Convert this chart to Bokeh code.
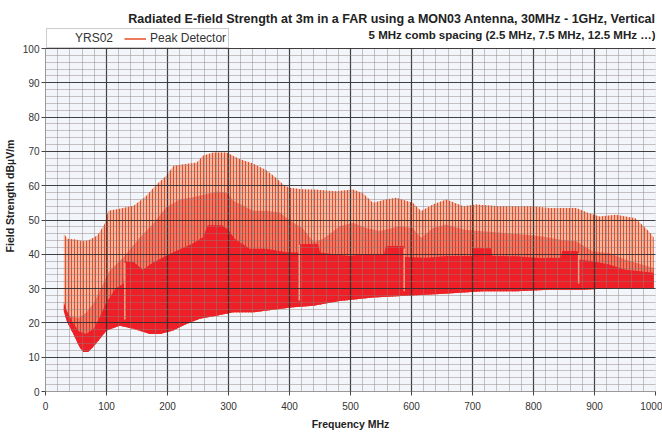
from bokeh.plotting import figure
from bokeh.models import Range1d, SingleIntervalTicker, Label, Legend, LegendItem, BoxAnnotation
from bokeh.embed import file_html
from bokeh.resources import INLINE

# ---------------- data ----------------
# upper envelope of the tall comb lines (dBuV/m)
freq_peak = [30, 36, 50, 60, 70, 85, 97, 103, 120, 145,
             165, 180, 198, 210, 230, 248, 258, 275, 297, 318,
             340, 362, 378, 390, 400, 420, 445, 476, 504, 520,
             537, 558, 575, 602, 616, 635, 657, 685, 706, 745,
             772, 799, 826, 870, 891, 908, 935, 967, 989, 997]
peak = [46, 44.5, 44.3, 43.8, 44, 45.5, 48.8, 52.7, 53.2, 54.2,
        57, 60, 62.9, 65.8, 66.3, 66.8, 68.7, 69.7, 69.7, 67.8,
        66.5, 64.5, 62.3, 60.3, 59.4, 59, 58.8, 58.4, 58.9, 57.9,
        55, 56, 56.5, 55, 52.6, 54.5, 56, 54, 54.5, 54,
        54, 54, 53.5, 53.5, 52, 51, 51.5, 50.5, 46.7, 45]

# envelope of the dense mid-level comb lines
freq_mid = [30, 40, 55, 67, 80, 89, 105, 127, 155, 176,
            198, 220, 242, 264, 280, 297, 308, 324, 340, 362,
            384, 400, 422, 440, 455, 470, 482, 504, 526, 548,
            580, 602, 616, 635, 657, 685, 717, 755, 788, 815,
            842, 870, 897, 924, 951, 978, 997]
mid = [25, 22, 21.5, 23, 26, 29.5, 35.2, 39, 45, 48.8,
       53.7, 56, 56.6, 57.6, 58.3, 58, 55.6, 54.2, 52.7, 52.7,
       52.2, 50, 47.5, 43.5, 44.5, 46.5, 48.2, 49.2, 47.7, 46.8,
       48.2, 47.7, 44.8, 47.7, 48.7, 47.2, 46.7, 46.2, 45.7, 45.2,
       44.3, 43.8, 40.9, 40.4, 38.4, 37, 36]

# top of the solid (densely filled) band
freq_solid = [30, 35, 45, 55, 67, 80, 89, 100, 115, 128,
              130, 145, 160, 175, 198, 220, 240, 258, 266, 290,
              300, 310, 335, 362, 395, 414, 416, 447, 450, 498,
              520, 555, 558, 587, 590, 624, 660, 700, 702, 730,
              733, 772, 810, 845, 847, 872, 875, 897, 924, 951,
              978, 997]
solid = [26, 23.5, 20, 17.5, 16.8, 18.5, 21.7, 26, 30, 31.5,
         38, 37.7, 35.5, 37.5, 39.6, 41.5, 43, 45, 48.5, 48.5,
         47, 44.5, 41.6, 41.6, 40.6, 40.5, 43, 43, 40.5, 39.5,
         40, 40, 42.4, 42.4, 39.2, 39, 39.5, 39.5, 41.8, 41.8,
         39.5, 39.4, 38.9, 39, 41, 41, 38.5, 38, 37, 35.5,
         35, 34.6]

# noise floor (bottom of the trace)
freq_floor = [30, 35, 45, 56, 62, 70, 78, 89, 100, 122,
              144, 171, 188, 209, 231, 253, 280, 308, 340, 373,
              406, 439, 482, 537, 591, 646, 717, 772, 826, 880,
              935, 997]
floor = [23.5, 20.5, 17, 12.9, 11.5, 11.5, 13, 15.3, 17.8, 19.2,
         18.3, 16.8, 16.8, 17.8, 19.7, 21.2, 22.1, 23.1, 23.1, 23.8,
         24.6, 25, 26.4, 27.4, 27.9, 28.4, 29.2, 29.2, 29.7, 29.7,
         30.2, 30.2]

# isolated light lines inside the solid band
dip_freq = [130, 416, 588, 874]
dip_low = [21, 26.5, 29.2, 31.5]
dip_high = [37.5, 42.8, 41.7, 40.2]

title_1 = "Radiated E-field Strength at 3m in a FAR using a MON03 Antenna, 30MHz - 1GHz, Vertical"
title_2 = "5 MHz comb spacing (2.5 MHz, 7.5 MHz, 12.5 MHz \u2026)"
x_label = "Frequency MHz"
y_label = "Field Strength dB\u00b5V/m"
legend_labels = ["YRS02", "Peak Detector"]

FONT = "Liberation Sans"
Y_MAX = 100      # top of the value axis
Y_TOP = 114.0    # frame extends above the axis to hold titles and legend

p = figure(width=662, height=433, output_backend="svg", toolbar_location=None,
           title=None,
           x_range=Range1d(0, 1000), y_range=Range1d(0, Y_TOP),
           min_border_left=44, min_border_right=7, min_border_top=0,
           min_border_bottom=42)
p.background_fill_color = "white"
p.border_fill_color = "white"
p.outline_line_color = None

# plotting area (0..100) background and border
p.add_layout(BoxAnnotation(bottom=0, top=Y_MAX, fill_color="#f2f5f9", fill_alpha=1,
                           line_color="#9a9a9a", line_width=1, level="underlay"))

# ---------------- spectrum layers ----------------
p.patch(freq_peak + freq_floor[::-1], peak + floor[::-1],
        fill_color="#f5b8a1", line_color=None,
        hatch_pattern="vertical_line", hatch_color="#e24c2d",
        hatch_scale=3, hatch_weight=1)
p.patch(freq_mid + freq_floor[::-1], mid + floor[::-1],
        fill_color="#ec7a64", line_color=None,
        hatch_pattern="vertical_line", hatch_color="#db3a28",
        hatch_scale=3, hatch_weight=1)
p.patch(freq_solid + freq_floor[::-1], solid + floor[::-1],
        fill_color="#ee1f26", line_color=None)
p.segment(x0=dip_freq, y0=dip_low, x1=dip_freq, y1=dip_high,
          line_color="#f3a58a", line_width=1.5)

# ---------------- axes & grid ----------------
xt = SingleIntervalTicker(interval=100, num_minor_ticks=5)
yt = SingleIntervalTicker(interval=10, num_minor_ticks=5)
p.xaxis.ticker = xt
p.yaxis.ticker = yt
p.xgrid.ticker = xt
p.ygrid.ticker = yt
p.ygrid.bounds = (0, Y_MAX)
p.yaxis.bounds = (0, Y_MAX)
has_cross = True
try:
    p.xgrid.cross_bounds = (0, Y_MAX)
except Exception:
    has_cross = False
for g in (p.xgrid, p.ygrid):
    g.level = "guide"
    g.grid_line_color = "#2a2a2a"
    g.grid_line_alpha = 0.85
    g.grid_line_width = 1.2
    g.minor_grid_line_color = "#8c7f7f"
    g.minor_grid_line_alpha = 0.45
    g.minor_grid_line_width = 1
if not has_cross:
    p.add_layout(BoxAnnotation(bottom=Y_MAX + 0.3, fill_color="white", fill_alpha=1,
                               line_color=None, level="annotation"))

for ax in (p.xaxis[0], p.yaxis[0]):
    ax.axis_line_color = "#9a9a9a"
    ax.major_tick_line_color = "#444444"
    ax.major_tick_out = 4
    ax.major_tick_in = 0
    ax.minor_tick_out = 0
    ax.minor_tick_in = 0
    ax.major_label_text_font = FONT
    ax.major_label_text_font_size = "10px"
    ax.major_label_text_color = "#333333"
    ax.axis_label_text_font = FONT
    ax.axis_label_text_font_size = "10.5px"
    ax.axis_label_text_font_style = "bold"
    ax.axis_label_text_color = "#222222"

p.xaxis.axis_label = x_label
p.yaxis.axis_label = y_label
p.xaxis.major_label_standoff = 6
p.xaxis.axis_label_standoff = 5
p.yaxis.major_label_standoff = 2
p.yaxis.axis_label_standoff = 4

# ---------------- titles ----------------
p.add_layout(Label(x=1000, y=108.75, text=title_1, text_align="right",
                   text_baseline="middle", text_font=FONT,
                   text_font_style="bold", text_font_size="12.5px",
                   text_color="#222222"))
p.add_layout(Label(x=1000, y=103.8, text=title_2, text_align="right",
                   text_baseline="middle", text_font=FONT,
                   text_font_style="bold", text_font_size="11.5px",
                   text_color="#222222"))

# ---------------- legend ----------------
nan = float("nan")
r_blank = p.line([nan], [nan], line_alpha=0)
r_peak = p.line([nan], [nan], line_color="#ec7b5e", line_width=2)
legend = Legend(items=[LegendItem(label=legend_labels[0], renderers=[r_blank]),
                       LegendItem(label=legend_labels[1], renderers=[r_peak])],
                orientation="horizontal", location=(1, 343),
                label_text_font=FONT, label_text_font_size="12px",
                label_text_color="#333333", label_height=13, glyph_height=13,
                glyph_width=22, label_standoff=4, spacing=11, padding=2,
                margin=0, border_line_color="#9a9a9a",
                background_fill_color="white", background_fill_alpha=1)
p.add_layout(legend)

open("out.html", "w").write(file_html(p, INLINE))
